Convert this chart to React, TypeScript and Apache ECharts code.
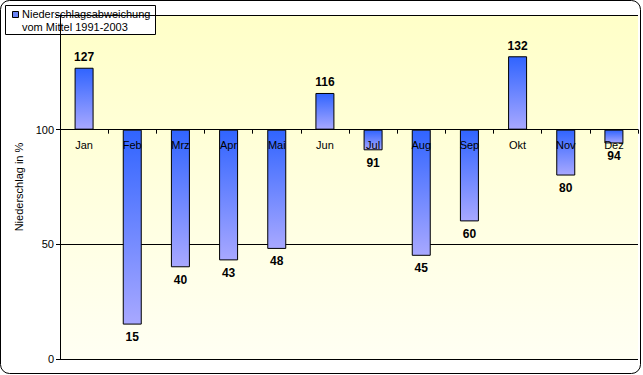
import React, { useEffect, useRef } from "react";
import * as echarts from "echarts";

const months = ["Jan", "Feb", "Mrz", "Apr", "Mai", "Jun", "Jul", "Aug", "Sep", "Okt", "Nov", "Dez"];
const precipitation = [127, 15, 40, 43, 48, 116, 91, 45, 60, 132, 80, 94];
const baseline = 100;
const axisMin = 0;
const axisMax = 150;
const axisStep = 50;
const seriesName = "Niederschlagsabweichung\nvom Mittel 1991-2003";
const yAxisTitle = "Niederschlag in %";

export default function App() {
  const ref = useRef<HTMLDivElement>(null);
  useEffect(() => {
    document.body.style.margin = "0";
    if (!ref.current) return;
    const chart = echarts.init(ref.current, undefined, { renderer: "svg" });
    const font = "'Liberation Sans', Arial, sans-serif";
    const gridTop = 15;
    const gridBottom = 16;
    const plotHeight = 375 - gridTop - gridBottom;
    const baselineOffset = -plotHeight * (baseline - axisMin) / (axisMax - axisMin);
    const barGradient = new echarts.graphic.LinearGradient(0, 0, 0, 1, [
      { offset: 0, color: "#3064ff" },
      { offset: 1, color: "#a8a8ff" },
    ]);
    const plotBg = new echarts.graphic.LinearGradient(0, 0, 0, 1, [
      { offset: 0, color: "#ffffc8" },
      { offset: 1, color: "#fffff3" },
    ]);
    chart.setOption({
      animation: false,
      backgroundColor: "#ffffff",
      textStyle: { fontFamily: font },
      grid: {
        left: 60,
        right: 5,
        top: gridTop,
        bottom: gridBottom,
        show: true,
        borderWidth: 0,
        backgroundColor: plotBg,
        containLabel: false,
        outerBoundsMode: "none",
      },
      xAxis: {
        type: "category",
        data: months,
        z: 10,
        position: "bottom",
        offset: baselineOffset,
        axisLine: { onZero: false, lineStyle: { color: "#000", width: 1 } },
        axisTick: { show: true, length: 4, lineStyle: { color: "#000" } },
        axisLabel: { color: "#000", fontSize: 11, margin: 10, lineHeight: 10, fontFamily: font },
      },
      yAxis: {
        type: "value",
        // axis values are deviations from the 100 % baseline; labels add it back
        min: axisMin - baseline,
        max: axisMax - baseline,
        interval: axisStep,
        name: yAxisTitle,
        nameLocation: "middle",
        nameRotate: 90,
        nameGap: 31,
        nameTextStyle: { color: "#000", fontSize: 11, fontFamily: font },
        axisLine: { show: true, onZero: false, lineStyle: { color: "#000", width: 1 } },
        axisTick: { show: true, length: 4, lineStyle: { color: "#000" } },
        axisLabel: {
          color: "#000",
          fontSize: 11,
          margin: 6,
          fontFamily: font,
          formatter: (v: number) => (v + baseline === axisMax ? "" : String(v + baseline)),
        },
        splitLine: { show: true, lineStyle: { color: "#000", width: 1 } },
      },
      series: [
        {
          type: "bar",
          name: seriesName,
          barWidth: 19,
          data: precipitation.map((v) => ({
            value: v - baseline,
            label:
              v >= baseline
                ? { position: "top", distance: 5 }
                : { position: "bottom", distance: 7 },
          })),
          itemStyle: { color: barGradient, borderColor: "#000", borderWidth: 1 },
          label: {
            show: true,
            color: "#000",
            fontSize: 12,
            lineHeight: 11,
            fontWeight: "bold",
            fontFamily: font,
            formatter: (p: any) => String(precipitation[p.dataIndex]),
          },
        },
      ],
      graphic: [
        {
          type: "rect",
          z: 100,
          silent: true,
          shape: { x: 0.5, y: 0.5, width: 640, height: 373, r: 9 },
          style: { fill: "none", stroke: "#000", lineWidth: 1 },
        },
        {
          type: "group",
          z: 100,
          children: [
            {
              type: "rect",
              shape: { x: 5.5, y: 5.5, width: 150, height: 29 },
              style: { fill: "#ffffff", stroke: "#000", lineWidth: 1 },
            },
            {
              type: "rect",
              shape: { x: 12.5, y: 11.5, width: 6, height: 6 },
              style: { fill: "#6a84f4", stroke: "#000", lineWidth: 1 },
            },
            {
              type: "text",
              x: 22,
              y: 7,
              style: {
                text: seriesName,
                fill: "#000",
                fontSize: 11,
                fontFamily: font,
                lineHeight: 13,
              },
            },
          ],
        },
      ],
    });
    return () => chart.dispose();
  }, []);
  return <div ref={ref} style={{ width: 643, height: 375 }} />;
}
